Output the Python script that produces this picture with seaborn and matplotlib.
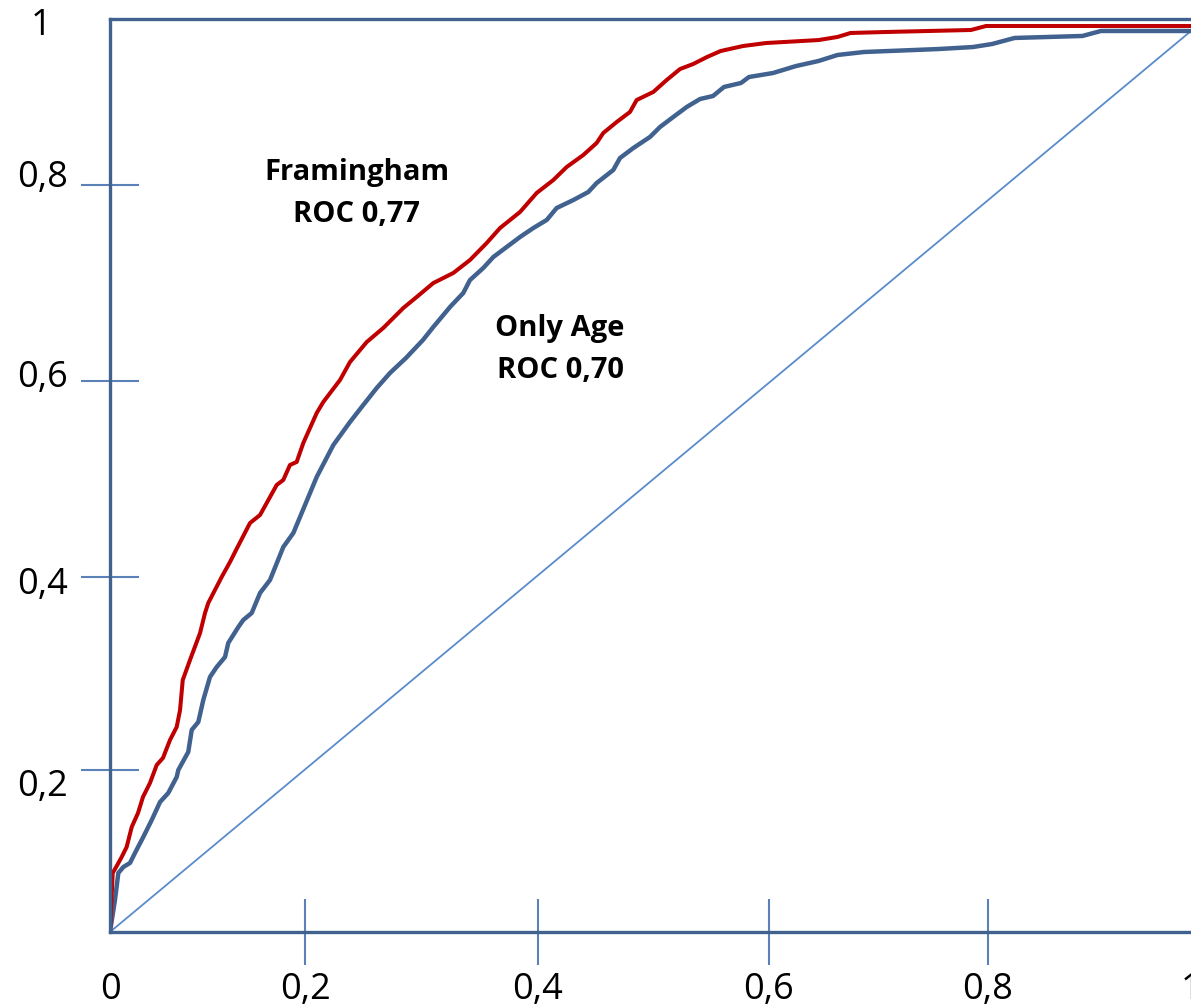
import matplotlib
matplotlib.use("Agg")
import matplotlib.pyplot as plt
import matplotlib.transforms as mtrans
import seaborn as sns
import numpy as np

# ROC curves (false positive rate, true positive rate)
fram_fpr = [0.0, 0.0025, 0.0062, 0.0108, 0.0154, 0.0201, 0.0259, 0.0305, 0.0370, 0.0432,
            0.0490, 0.0555, 0.0617, 0.0648, 0.0673, 0.0740, 0.0833, 0.0879, 0.0909, 0.0971,
            0.1033, 0.1110, 0.1166, 0.1295, 0.1388, 0.1542, 0.1603, 0.1665, 0.1727, 0.1788,
            0.1912, 0.1973, 0.2128, 0.2220, 0.2375, 0.2528, 0.2713, 0.2837, 0.2991, 0.3176,
            0.3330, 0.3485, 0.3608, 0.3793, 0.3947, 0.4101, 0.4225, 0.4378, 0.4502, 0.4563,
            0.4687, 0.4810, 0.4872, 0.5026, 0.5150, 0.5273, 0.5396, 0.5523, 0.5649, 0.5856,
            0.6068, 0.6555, 0.6730, 0.6851, 0.7183, 0.7965, 0.8104, 1.0]
fram_tpr = [0.0, 0.0651, 0.0728, 0.0828, 0.0938, 0.1159, 0.1313, 0.1490, 0.1645, 0.1843,
            0.1921, 0.2119, 0.2263, 0.2450, 0.2781, 0.3002, 0.3300, 0.3521, 0.3631, 0.3775,
            0.3918, 0.4084, 0.4216, 0.4514, 0.4603, 0.4934, 0.4989, 0.5155, 0.5188, 0.5397,
            0.5728, 0.5850, 0.6093, 0.6291, 0.6512, 0.6667, 0.6887, 0.7009, 0.7163, 0.7274,
            0.7417, 0.7605, 0.7770, 0.7947, 0.8157, 0.8300, 0.8444, 0.8576, 0.8709, 0.8819,
            0.8940, 0.9051, 0.9183, 0.9272, 0.9404, 0.9525, 0.9581, 0.9658, 0.9724, 0.9779,
            0.9812, 0.9845, 0.9879, 0.9923, 0.9934, 0.9956, 1.0, 1.0]

age_fpr = [0.0, 0.0046, 0.0077, 0.0123, 0.0185, 0.0231, 0.0308, 0.0386, 0.0463, 0.0539,
           0.0617, 0.0632, 0.0724, 0.0756, 0.0817, 0.0863, 0.0925, 0.0987, 0.1064, 0.1094,
           0.1187, 0.1233, 0.1311, 0.1388, 0.1480, 0.1603, 0.1696, 0.1758, 0.1912, 0.2066,
           0.2220, 0.2343, 0.2467, 0.2590, 0.2738, 0.2895, 0.2991, 0.3145, 0.3268, 0.3330,
           0.3453, 0.3546, 0.3670, 0.3793, 0.3916, 0.4040, 0.4132, 0.4286, 0.4425, 0.4502,
           0.4656, 0.4718, 0.4841, 0.4995, 0.5088, 0.5211, 0.5335, 0.5458, 0.5578, 0.5680,
           0.5837, 0.5911, 0.6133, 0.6346, 0.6555, 0.6730, 0.6975, 0.7669, 0.7983, 0.8159,
           0.8368, 0.8996, 0.9167, 1.0]
age_tpr = [0.0, 0.0353, 0.0651, 0.0717, 0.0762, 0.0872, 0.1049, 0.1236, 0.1435, 0.1534,
           0.1711, 0.1788, 0.1987, 0.2230, 0.2318, 0.2561, 0.2815, 0.2925, 0.3035, 0.3190,
           0.3366, 0.3444, 0.3521, 0.3742, 0.3885, 0.4249, 0.4404, 0.4581, 0.5022, 0.5375,
           0.5629, 0.5817, 0.6004, 0.6170, 0.6336, 0.6534, 0.6678, 0.6898, 0.7053, 0.7196,
           0.7329, 0.7450, 0.7561, 0.7671, 0.7770, 0.7859, 0.7991, 0.8079, 0.8168, 0.8267,
           0.8411, 0.8543, 0.8653, 0.8775, 0.8885, 0.8996, 0.9106, 0.9194, 0.9227, 0.9327,
           0.9371, 0.9437, 0.9481, 0.9558, 0.9614, 0.9680, 0.9713, 0.9746, 0.9768, 0.9801,
           0.9868, 0.9890, 0.9945, 0.9945]

chance_x = [0.0, 1.0]
chance_y = [0.0, 0.9945]

# tick places as drawn in the picture
xtick_pos = [0.0, 0.1804, 0.3959, 0.6096, 0.8122, 1.0]
xtick_labels = ["0", "0,2", "0,4", "0,6", "0,8", "1"]
ytick_pos = [0.1788, 0.3918, 0.6082, 0.8245, 1.0055]
ytick_labels = ["0,2", "0,4", "0,6", "0,8", "1"]

sns.set_theme(style="white")
plt.rcParams["font.family"] = ["Open Sans", "DejaVu Sans"]

spine_col = "#41618f"
tick_col = "#5b82b8"

fig = plt.figure(figsize=(11.91, 10.08), dpi=100)
ax = fig.add_axes([110 / 1191, 76 / 1008, 1081 / 1191, 913 / 1008])

sns.lineplot(x=chance_x, y=chance_y, ax=ax, color="#5a8ccc", linewidth=1.3,
             estimator=None, sort=False)
sns.lineplot(x=age_fpr, y=age_tpr, ax=ax, color="#41618f", linewidth=3.2,
             estimator=None, sort=False, solid_joinstyle="round")
sns.lineplot(x=fram_fpr, y=fram_tpr, ax=ax, color="#c00000", linewidth=2.9,
             estimator=None, sort=False, solid_joinstyle="round")

ax.set_xlim(0, 1)
ax.set_ylim(0, 913 / 906)

for side in ["left", "bottom", "top"]:
    ax.spines[side].set_color(spine_col)
    ax.spines[side].set_linewidth(2.4)
ax.spines["right"].set_visible(False)

ax.set_xticks(xtick_pos)
ax.set_xticklabels(xtick_labels)
ax.set_yticks(ytick_pos)
ax.set_yticklabels(ytick_labels)
ax.tick_params(axis="x", direction="inout", length=47, width=1.5, color=tick_col,
               pad=5, labelsize=26, labelcolor="black", bottom=True)
ax.tick_params(axis="y", direction="inout", length=42, width=1.5, color=tick_col,
               pad=9, labelsize=26, labelcolor="black", left=True)

# no tick marks where the label sits on a spine end
xt = ax.xaxis.get_major_ticks()
xt[0].tick1line.set_visible(False)
xt[-1].tick1line.set_visible(False)
ax.yaxis.get_major_ticks()[-1].tick1line.set_visible(False)

# the y labels sit a little off their ticks in the original (pixel nudges)
nudges = [(0, -12), (0, -3), (0, 7), (0, 12), (-17, 0)]
for lab, (dx, dy) in zip(ax.get_yticklabels(), nudges):
    lab.set_transform(lab.get_transform() +
                      mtrans.ScaledTranslation(dx / 100, dy / 100, fig.dpi_scale_trans))

ax.text(0.228, 0.830, "Framingham", ha="center", va="baseline",
        fontsize=21, fontweight="bold", color="black")
ax.text(0.228, 0.7837, "ROC 0,77", ha="center", va="baseline",
        fontsize=21, fontweight="bold", color="black")
ax.text(0.4163, 0.6578, "Only Age", ha="center", va="baseline",
        fontsize=21, fontweight="bold", color="black")
ax.text(0.4163, 0.6115, "ROC 0,70", ha="center", va="baseline",
        fontsize=21, fontweight="bold", color="black")

ax.set_xlabel("")
ax.set_ylabel("")

fig.savefig("out.png", dpi=100)
